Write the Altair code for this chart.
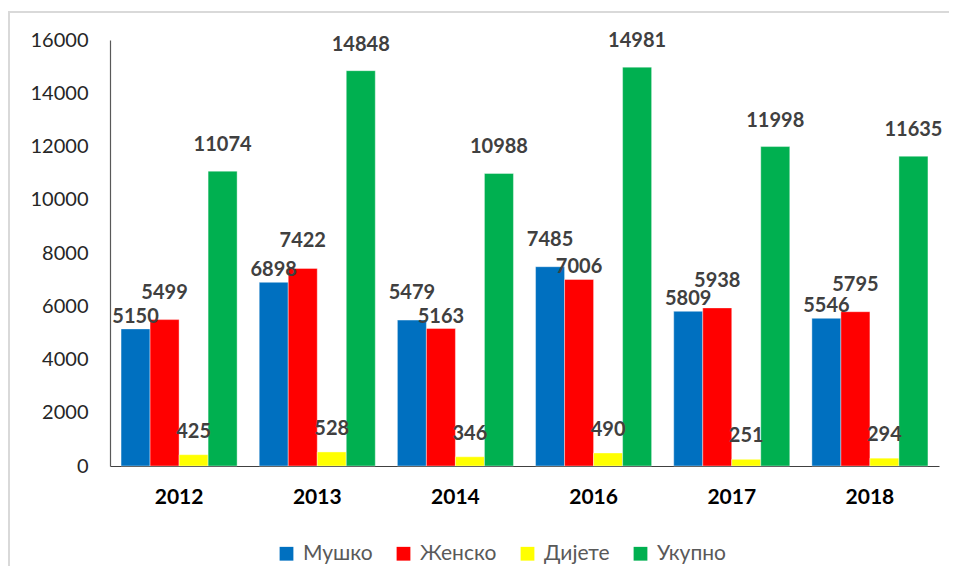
import altair as alt
import pandas as pd

years = ["2012", "2013", "2014", "2016", "2017", "2018"]
series = ["Мушко", "Женско", "Дијете", "Укупно"]
male = [5150, 6898, 5479, 7485, 5809, 5546]
female = [5499, 7422, 5163, 7006, 5938, 5795]
child = [425, 528, 346, 490, 251, 294]
total = [11074, 14848, 10988, 14981, 11998, 11635]
colors = ["#0070C0", "#FF0000", "#FFFF00", "#00B050"]
y_ticks = [0, 2000, 4000, 6000, 8000, 10000, 12000, 14000, 16000]

rows = []
for s, vals in zip(series, [male, female, child, total]):
    for yr, v in zip(years, vals):
        rows.append({"year": yr, "series": s, "value": v})
df = pd.DataFrame(rows)

W, H = 829, 426
FONT = "Lato"

x = alt.X("year:N", sort=years, title=None,
          scale=alt.Scale(paddingInner=0.16, paddingOuter=0.08),
          axis=alt.Axis(labelFontSize=21, labelFontWeight="bold", labelColor="#000000",
                        labelPadding=20, ticks=False, domainColor="#404040",
                        domainWidth=1.2, labelAngle=0, labelFont=FONT))
y = alt.Y("value:Q", title=None,
          scale=alt.Scale(domain=[0, 16000], nice=False),
          axis=alt.Axis(values=y_ticks, format="d", labelFontSize=20, labelColor="#262626",
                        labelPadding=22, ticks=False, grid=False, domainColor="#595959",
                        domainWidth=1.2, labelFont=FONT))
xo = alt.XOffset("series:N", sort=series,
                 scale=alt.Scale(domain=series, paddingInner=0, paddingOuter=0))
color = alt.Color("series:N", sort=series,
                  scale=alt.Scale(domain=series, range=colors),
                  legend=alt.Legend(title=None, orient="none", direction="horizontal",
                                    legendX=166, legendY=503, symbolType="square",
                                    symbolSize=190, symbolStrokeWidth=0, labelFontSize=21,
                                    labelColor="#595959", labelFont=FONT, columnPadding=20,
                                    labelOffset=6))

base = alt.Chart(df).encode(x=x, xOffset=xo)
bars = base.mark_bar(stroke="white", strokeWidth=0.4).encode(y=y, color=color)

label_style = dict(fontSize=20, fontWeight="bold", color="#404040", font=FONT, baseline="middle")
label_enc = dict(y=alt.Y("value:Q"), text=alt.Text("value:Q", format="d"))

# Мушко / Женско pair: the taller bar's label sits higher, the shorter one's lower
pair = base.transform_filter(
    alt.FieldOneOfPredicate(field="series", oneOf=["Мушко", "Женско"])
).transform_joinaggregate(pairmax="max(value)", groupby=["year"])
taller = pair.transform_filter("datum.value >= datum.pairmax").mark_text(
    dy=-27, **label_style).encode(**label_enc)
shorter = pair.transform_filter("datum.value < datum.pairmax").mark_text(
    dy=-12, **label_style).encode(**label_enc)
child_lbl = base.transform_filter(alt.datum.series == "Дијете").mark_text(
    dy=-23, **label_style).encode(**label_enc)
total_lbl = base.transform_filter(alt.datum.series == "Укупно").mark_text(
    dy=-26, **label_style).encode(**label_enc)

# light-grey outer frame: top and left edges as thin filled strips
frame = pd.DataFrame({"k": [0]})
top_edge = alt.Chart(frame).mark_rect(color="#d9d9d9", strokeWidth=0).encode(
    x=alt.value(-102), x2=alt.value(900), y=alt.value(-29), y2=alt.value(-27))
left_edge = alt.Chart(frame).mark_rect(color="#d9d9d9", strokeWidth=0).encode(
    x=alt.value(-102), x2=alt.value(-100), y=alt.value(-29), y2=alt.value(600))

chart = alt.layer(top_edge, left_edge, bars, taller, shorter, child_lbl, total_lbl).properties(
    width=W, height=H,
    autosize=alt.AutoSizeParams(type="none"),
    padding={"left": 102, "top": 32, "right": 10, "bottom": 100},
    background="white",
).configure(font=FONT).configure_view(strokeWidth=0, stroke="transparent")

chart.save("out.html", embed_options={"renderer": "svg", "actions": False})
